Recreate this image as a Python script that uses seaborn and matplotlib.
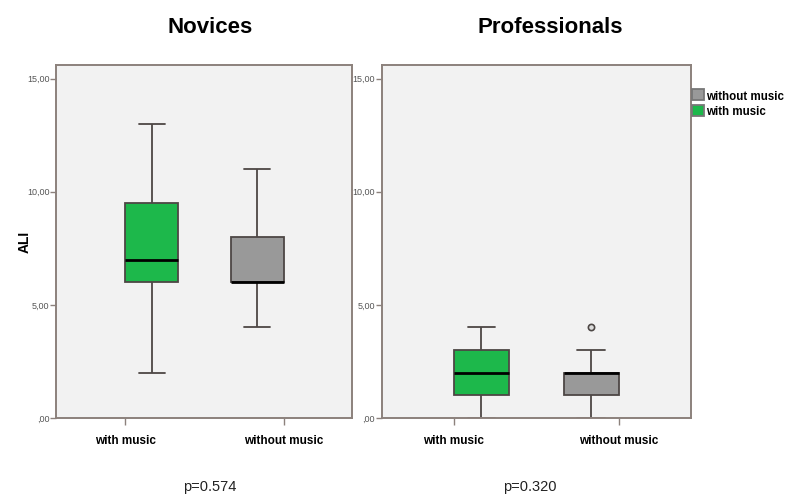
"""
ALI boxplots for novices and professionals, with / without music.
"""

import matplotlib
matplotlib.use("Agg")
import matplotlib.pyplot as plt
import pandas as pd
import seaborn as sns

# raw ALI scores read so the quartiles match the picture
nov_with    = [2, 5, 6, 6, 7, 8, 9.5, 10, 13]
nov_without = [4, 5, 6, 6, 6, 7, 8, 9, 11]
pro_with    = [0, 1, 1, 2, 2, 3, 3, 4, 4]
pro_without = [0, 1, 1, 2, 2, 2, 2, 3, 4]

conditions  = ["with music", "without music"]
hue_order   = ["without music", "with music"]
groups      = ["Novices", "Professionals"]
p_values    = ["p=0.574", "p=0.320"]
yticks      = [0, 5, 10, 15]
ytick_labels = [",00", "5,00", "10,00", "15,00"]

PALETTE = {"without music": "#999999", "with music": "#1db84b"}
EDGE    = "#4d4745"
SPINE   = "#8c817c"


def make_frame(with_vals, without_vals):
    rows = [{"cond": "with music", "ALI": v} for v in with_vals]
    rows += [{"cond": "without music", "ALI": v} for v in without_vals]
    return pd.DataFrame(rows)


def style_axis(ax):
    ax.set_facecolor("#f2f2f2")
    for s in ax.spines.values():
        s.set_color(SPINE)
        s.set_linewidth(1.4)
    ax.set_ylim(0, 15.6)
    ax.set_xlim(-0.435, 1.435)
    ax.set_yticks(yticks)
    ax.set_yticklabels(ytick_labels, fontsize=6.5, color="#555555")
    ax.tick_params(axis="y", left=True, length=4, width=1,
                   color=SPINE, pad=1)
    ax.tick_params(axis="x", bottom=True, length=5, width=1,
                   color=SPINE, pad=7)
    for lab in ax.get_xticklabels():
        lab.set_fontweight("bold")
        lab.set_fontsize(8.5)
        lab.set_color("black")
    ax.set_xlabel("")
    ax.grid(False)


def main():
    sns.set_style("white")
    plt.rcParams["font.family"] = ["Liberation Sans", "DejaVu Sans"]

    fig = plt.figure(figsize=(8, 4.98), dpi=100)
    ax1 = fig.add_axes([0.0705, 0.1606, 0.370, 0.709])
    ax2 = fig.add_axes([0.4775, 0.1606, 0.386, 0.709])

    frames = [make_frame(nov_with, nov_without),
              make_frame(pro_with, pro_without)]

    for ax, df in zip([ax1, ax2], frames):
        sns.boxplot(data=df, x="cond", y="ALI", hue="cond",
                    order=conditions, hue_order=hue_order,
                    palette=PALETTE, saturation=1,
                    dodge=True, width=0.67, gap=0,
                    linewidth=1.3, linecolor=EDGE,
                    medianprops={"color": "black", "linewidth": 2},
                    flierprops={"marker": "o", "markersize": 4.5,
                                "markerfacecolor": "#dddddd",
                                "markeredgecolor": EDGE,
                                "markeredgewidth": 1.2},
                    legend=True, ax=ax)
        style_axis(ax)

    ax1.set_ylabel("ALI", fontsize=10, fontweight="bold", color="black")
    ax1.yaxis.set_label_coords(-0.085, 0.5)
    ax2.set_ylabel("")
    ax1.get_legend().remove()

    handles, labels = ax2.get_legend_handles_labels()
    ax2.get_legend().remove()
    leg = ax2.legend(handles, labels, loc="upper left",
                     bbox_to_anchor=(1.0, 0.935), frameon=False,
                     handlelength=0.85, handleheight=0.85,
                     handletextpad=0.15, labelspacing=0.15,
                     borderaxespad=0, borderpad=0.1)
    for t in leg.get_texts():
        t.set_fontweight("bold")
        t.set_fontsize(8.3)
        t.set_color("black")
    for h in leg.get_patches():
        h.set_edgecolor("#777777")

    fig.text(0.2625, 0.945, groups[0], ha="center", va="center",
             fontsize=16, fontweight="bold", color="black")
    fig.text(0.6875, 0.945, groups[1], ha="center", va="center",
             fontsize=16, fontweight="bold", color="black")
    fig.text(0.2625, 0.022, p_values[0], ha="center", va="center",
             fontsize=10.5, color="#222222")
    fig.text(0.6625, 0.022, p_values[1], ha="center", va="center",
             fontsize=10.5, color="#222222")

    fig.savefig("out.png", dpi=100)
    plt.close(fig)


if __name__ == "__main__":
    main()
